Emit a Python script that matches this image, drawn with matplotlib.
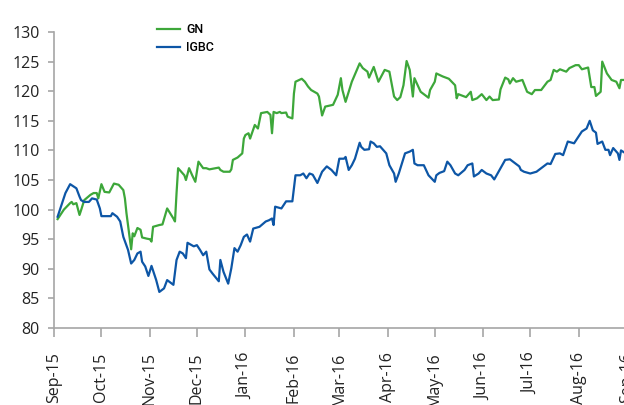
import matplotlib
matplotlib.use("Agg")
import matplotlib.pyplot as plt
import matplotlib.dates as mdates
import pandas as pd

# days after 1 Sep 2015, index values
gn_days = [2, 6, 10, 11, 12, 14, 16, 17, 19, 23, 25, 27, 28, 30, 32, 35, 38, 41, 43, 44,
           45, 46, 49, 50, 51, 53, 55, 56, 59, 61, 62, 63, 67, 69, 72, 76, 77, 78, 79, 81,
           83, 84, 86, 88, 90, 92, 95, 97, 99, 105, 106, 108, 112, 113, 114, 117, 120, 121, 122, 124,
           125, 128, 130, 132, 136, 138, 139, 140, 142, 144, 145, 148, 149, 152, 153, 154, 158, 160, 162, 164,
           168, 169, 171, 173, 178, 181, 183, 184, 186, 190, 195, 197, 200, 201, 204, 207, 211, 214, 217, 219,
           221, 223, 225, 227, 229, 230, 234, 239, 240, 243, 244, 248, 252, 256, 257, 258, 263, 266, 267, 270,
           273, 276, 278, 280, 284, 285, 288, 290, 291, 293, 295, 299, 302, 305, 307, 311, 315, 317, 319, 321,
           323, 327, 329, 333, 335, 337, 341, 343, 345, 346, 349, 350, 353, 356, 359, 361, 362, 365]
gn = [98.4, 100.0, 101.1, 101.3, 100.9, 101.1, 99.1, 99.9, 101.6, 102.5, 102.8, 102.8, 101.9, 104.3, 103.0, 102.9, 104.4, 104.2, 103.6, 103.3,
      101.9, 99.4, 93.3, 96.0, 95.5, 96.9, 96.6, 95.3, 95.1, 95.0, 94.6, 97.1, 97.4, 97.5, 100.2, 98.5, 98.0, 102.8, 107.0, 106.4,
      105.8, 105.0, 107.0, 105.8, 104.7, 108.1, 107.0, 107.0, 106.8, 107.1, 106.7, 106.4, 106.4, 106.8, 108.4, 108.8, 109.5, 112.0, 112.6, 112.9,
      112.0, 114.3, 113.7, 116.3, 116.5, 116.0, 112.9, 116.5, 116.3, 116.5, 116.3, 116.4, 115.7, 115.4, 119.6, 121.6, 122.1, 121.6, 120.8, 120.2,
      119.6, 119.1, 115.9, 117.4, 117.7, 119.4, 122.2, 120.2, 118.2, 121.6, 124.7, 123.9, 123.3, 122.3, 124.1, 121.6, 123.6, 123.3, 119.1, 118.5,
      119.0, 121.0, 125.1, 123.6, 119.1, 122.2, 119.9, 118.9, 120.2, 121.6, 123.0, 122.5, 122.1, 121.0, 118.8, 119.5, 119.0, 119.9, 118.5, 118.8,
      119.5, 118.5, 119.1, 118.5, 118.6, 120.3, 122.3, 122.0, 121.3, 122.2, 121.6, 121.9, 119.9, 119.5, 120.2, 120.2, 121.6, 121.9, 123.6, 123.3,
      123.7, 123.3, 123.9, 124.4, 124.4, 123.7, 124.0, 120.7, 120.7, 119.2, 119.9, 125.0, 123.0, 121.9, 121.6, 120.5, 121.9, 121.9]

igbc_days = [2, 7, 10, 14, 16, 17, 19, 22, 24, 27, 29, 30, 36, 37, 40, 42, 44, 47, 49, 51,
             53, 55, 56, 58, 60, 62, 65, 67, 70, 72, 75, 76, 78, 80, 82, 84, 85, 89, 91, 93,
             95, 97, 99, 101, 105, 106, 108, 111, 113, 115, 117, 119, 121, 123, 125, 127, 131, 135, 137, 139,
             140, 141, 145, 148, 152, 153, 154, 157, 159, 161, 163, 165, 168, 171, 174, 177, 180, 182, 185, 186,
             188, 190, 192, 195, 196, 198, 201, 202, 204, 206, 208, 210, 212, 214, 217, 218, 220, 224, 227, 229,
             230, 232, 236, 239, 243, 244, 246, 249, 251, 253, 256, 258, 262, 264, 267, 268, 271, 273, 276, 279,
             281, 285, 288, 291, 293, 297, 298, 300, 304, 308, 311, 315, 317, 320, 323, 325, 328, 332, 334, 337,
             340, 342, 344, 346, 347, 350, 352, 354, 355, 357, 360, 361, 362, 365]
igbc = [98.8, 102.8, 104.3, 103.6, 102.2, 101.6, 101.3, 101.3, 101.9, 101.7, 100.2, 98.9, 98.9, 99.4, 98.8, 98.0, 95.4, 93.2, 90.9, 91.5,
        92.6, 92.9, 91.2, 90.4, 88.8, 90.5, 88.1, 86.1, 86.7, 88.1, 87.5, 87.3, 91.5, 92.9, 92.6, 91.8, 94.4, 93.8, 94.0, 93.2,
        92.3, 92.9, 89.9, 89.2, 87.9, 91.5, 89.5, 87.5, 90.1, 93.5, 92.9, 94.0, 95.4, 95.8, 94.6, 96.8, 97.1, 98.0, 98.2, 98.5,
        97.4, 100.5, 100.2, 101.4, 101.4, 103.6, 105.8, 105.8, 106.1, 105.3, 106.1, 105.9, 104.5, 106.4, 107.3, 106.7, 105.8, 108.6, 108.6, 108.9,
        106.7, 107.5, 108.6, 111.3, 110.6, 110.1, 110.2, 111.5, 111.2, 110.6, 110.7, 110.1, 109.5, 107.5, 106.1, 104.7, 106.1, 109.5, 109.8, 110.1,
        107.8, 107.5, 107.5, 105.8, 104.7, 105.8, 106.2, 106.5, 108.1, 107.5, 106.1, 105.8, 106.7, 107.5, 107.8, 105.6, 106.1, 106.7, 106.1, 105.8,
        105.1, 107.0, 108.4, 108.5, 108.1, 107.3, 106.7, 106.4, 106.1, 106.4, 107.0, 107.8, 107.7, 109.4, 109.5, 109.2, 111.5, 111.2, 112.0, 113.2,
        113.7, 115.0, 113.4, 113.0, 111.1, 111.5, 110.1, 110.1, 109.2, 110.4, 109.5, 108.4, 110.0, 109.5]

start = pd.Timestamp('2015-09-01')
gn_dates = start + pd.to_timedelta(gn_days, unit='D')
igbc_dates = start + pd.to_timedelta(igbc_days, unit='D')

plt.rcParams['font.family'] = ['Open Sans', 'DejaVu Sans']

fig = plt.figure(figsize=(6.24, 4.05), dpi=100)
ax = fig.add_axes([0.0873, 0.19, 0.938, 0.731])

ax.plot(gn_dates, gn, color='#3da73a', lw=1.6, label='GN')
ax.plot(igbc_dates, igbc, color='#0d56a6', lw=1.6, label='IGBC')

ax.set_ylim(80, 130)
ax.set_yticks(range(80, 131, 5))
ax.set_xlim(start, start + pd.Timedelta(days=374))
ax.xaxis.set_major_locator(mdates.MonthLocator())
ax.xaxis.set_major_formatter(mdates.DateFormatter('%b-%y'))

for s in ['top', 'right']:
    ax.spines[s].set_visible(False)
for s in ['left', 'bottom']:
    ax.spines[s].set_color('#a6a6a6')
    ax.spines[s].set_linewidth(1.2)

ax.tick_params(axis='y', length=4.5, width=1.2, color='#a6a6a6', labelsize=11.5, pad=6, labelcolor='#222222')
ax.tick_params(axis='x', length=6.5, width=1.2, color='#a6a6a6', labelsize=11.5, pad=11,
               labelrotation=90, labelcolor='#222222')

leg = ax.legend(loc='upper left', bbox_to_anchor=(146 / 624, 1 - 12 / 405), bbox_transform=fig.transFigure,
                frameon=False, handlelength=1.8, handletextpad=0.5, labelspacing=0.4,
                prop={'family': ['Roboto', 'DejaVu Sans'], 'size': 9, 'weight': 'medium'})

plt.savefig('out.png', dpi=100)
